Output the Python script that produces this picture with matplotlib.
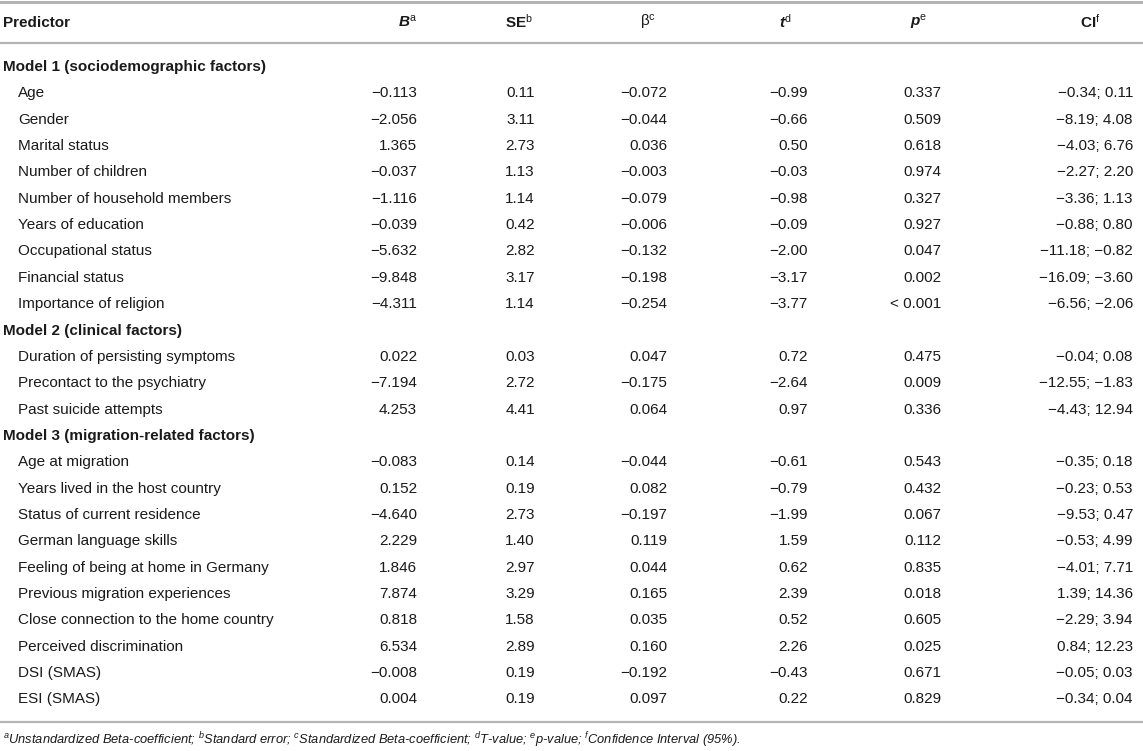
import matplotlib
matplotlib.use("Agg")
import matplotlib.pyplot as plt

plt.rcParams['font.family'] = ['Liberation Sans', 'DejaVu Sans']
plt.rcParams['mathtext.fontset'] = 'custom'
plt.rcParams['mathtext.rm'] = 'Liberation Sans'
plt.rcParams['mathtext.it'] = 'Liberation Sans:italic'
plt.rcParams['mathtext.bf'] = 'Liberation Sans:bold'
plt.rcParams['mathtext.bfit'] = 'Liberation Sans:bold:italic'

# table content
groups = ["Model 1 (sociodemographic factors)",
          "Model 2 (clinical factors)",
          "Model 3 (migration-related factors)"]
predictors = [
    ["Age", "Gender", "Marital status", "Number of children",
     "Number of household members", "Years of education",
     "Occupational status", "Financial status", "Importance of religion"],
    ["Duration of persisting symptoms", "Precontact to the psychiatry",
     "Past suicide attempts"],
    ["Age at migration", "Years lived in the host country",
     "Status of current residence", "German language skills",
     "Feeling of being at home in Germany", "Previous migration experiences",
     "Close connection to the home country", "Perceived discrimination",
     "DSI (SMAS)", "ESI (SMAS)"],
]
B = ["−0.113", "−2.056", "1.365", "−0.037", "−1.116", "−0.039", "−5.632", "−9.848", "−4.311",
     "0.022", "−7.194", "4.253",
     "−0.083", "0.152", "−4.640", "2.229", "1.846", "7.874", "0.818", "6.534", "−0.008", "0.004"]
SE = ["0.11", "3.11", "2.73", "1.13", "1.14", "0.42", "2.82", "3.17", "1.14",
      "0.03", "2.72", "4.41",
      "0.14", "0.19", "2.73", "1.40", "2.97", "3.29", "1.58", "2.89", "0.19", "0.19"]
beta = ["−0.072", "−0.044", "0.036", "−0.003", "−0.079", "−0.006", "−0.132", "−0.198", "−0.254",
        "0.047", "−0.175", "0.064",
        "−0.044", "0.082", "−0.197", "0.119", "0.044", "0.165", "0.035", "0.160", "−0.192", "0.097"]
t_val = ["−0.99", "−0.66", "0.50", "−0.03", "−0.98", "−0.09", "−2.00", "−3.17", "−3.77",
         "0.72", "−2.64", "0.97",
         "−0.61", "−0.79", "−1.99", "1.59", "0.62", "2.39", "0.52", "2.26", "−0.43", "0.22"]
p_val = ["0.337", "0.509", "0.618", "0.974", "0.327", "0.927", "0.047", "0.002", "< 0.001",
         "0.475", "0.009", "0.336",
         "0.543", "0.432", "0.067", "0.112", "0.835", "0.018", "0.605", "0.025", "0.671", "0.829"]
CI = ["−0.34; 0.11", "−8.19; 4.08", "−4.03; 6.76", "−2.27; 2.20", "−3.36; 1.13", "−0.88; 0.80",
      "−11.18; −0.82", "−16.09; −3.60", "−6.56; −2.06",
      "−0.04; 0.08", "−12.55; −1.83", "−4.43; 12.94",
      "−0.35; 0.18", "−0.23; 0.53", "−9.53; 0.47", "−0.53; 4.99", "−4.01; 7.71", "1.39; 14.36",
      "−2.29; 3.94", "0.84; 12.23", "−0.05; 0.03", "−0.34; 0.04"]
headers = [r"$\mathbfit{B}^{\mathrm{a}}$", r"$\mathbf{SE}^{\mathrm{b}}$", r"$\mathrm{β}^{\mathrm{c}}$",
           r"$\mathbfit{t}^{\mathrm{d}}$", r"$\mathbfit{p}^{\mathrm{e}}$", r"$\mathbf{CI}^{\mathrm{f}}$"]
footnote = (r"$^{\mathit{a}}$Unstandardized Beta-coefficient; $^{\mathit{b}}$Standard error; "
            r"$^{\mathit{c}}$Standardized Beta-coefficient; $^{\mathit{d}}$T-value; "
            r"$^{\mathit{e}}$p-value; $^{\mathit{f}}$Confidence Interval (95%).")

fig = plt.figure(figsize=(11.43, 7.51), dpi=100)
ax = fig.add_axes([0, 0, 1, 1])
ax.set_xlim(0, 1143)
ax.set_ylim(751, 0)
ax.axis('off')

txt = '#1a1a1a'
line_c = '#b4b4b4'
fs = 11

# column layout: value x, value align, header x, header align
cols = [(417, 'right', 417, 'right'),
        (535, 'right', 519, 'center'),
        (667, 'right', 648, 'center'),
        (808, 'right', 785, 'center'),
        (941, 'right', 919, 'center'),
        (1133, 'right', 1090, 'center')]

ax.plot([0, 1143], [2, 2], color=line_c, lw=2.2)
ax.plot([0, 1143], [43, 43], color=line_c, lw=1.6)
ax.plot([0, 1143], [722, 722], color=line_c, lw=1.6)

ax.text(3, 23, "Predictor", ha='left', va='center', fontsize=fs, fontweight='bold', color=txt)
for (x, ha, hx, hha), h in zip(cols, headers):
    ax.text(hx, 22, h, ha=hha, va='center', fontsize=fs, color=txt)

y0 = 67
pitch = 26.35
row = 0
k = 0
columns = [B, SE, beta, t_val, p_val, CI]
for g, preds in zip(groups, predictors):
    ax.text(3, y0 + row * pitch, g, ha='left', va='center', fontsize=fs,
            fontweight='bold', color=txt)
    row += 1
    for name in preds:
        y = y0 + row * pitch
        ax.text(18, y, name, ha='left', va='center', fontsize=fs, color=txt)
        for (x, ha, hx, hha), vals in zip(cols, columns):
            ax.text(x, y, vals[k], ha=ha, va='center', fontsize=fs, color=txt)
        row += 1
        k += 1

ax.text(3, 740, footnote, ha='left', va='center', fontsize=9.3, style='italic', color=txt)

fig.savefig('out.png', dpi=100, facecolor='white')
